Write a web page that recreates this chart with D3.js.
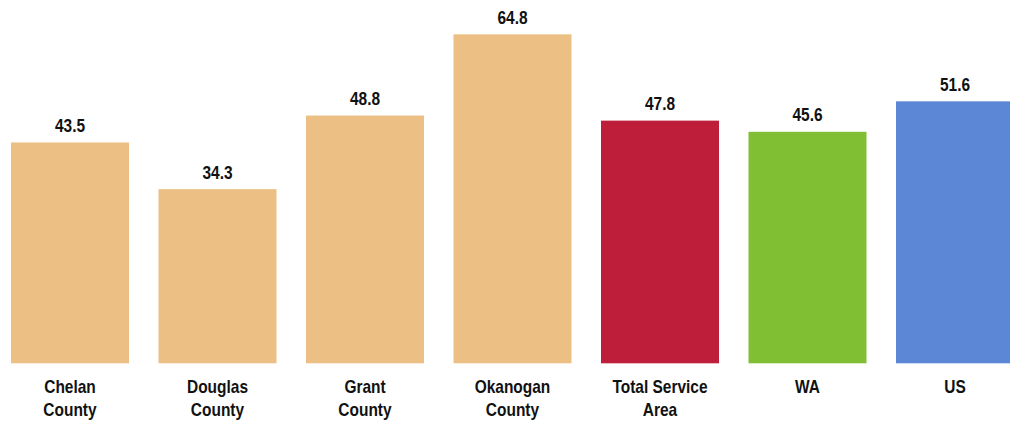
<!DOCTYPE html>
<html>
<head>
<meta charset="utf-8">
<script src="https://cdn.jsdelivr.net/npm/d3@7"></script>
<style>
html,body{margin:0;padding:0;background:#fff;}
svg{display:block;}
</style>
</head>
<body>
<svg id="chart" width="1010" height="422"></svg>
<script>
const categories = [["Chelan","County"],["Douglas","County"],["Grant","County"],["Okanogan","County"],["Total Service","Area"],["WA"],["US"]];
const values = [43.5, 34.3, 48.8, 64.8, 47.8, 45.6, 51.6];
const colors = ["#ECC084","#ECC084","#ECC084","#ECC084","#BE1E3A","#80BE33","#5B87D6"];

const svg = d3.select("#chart");
const keys = categories.map(c => c.join(" "));
const x = d3.scaleBand().domain(keys).range([-3.75, 1028.75]).paddingInner(0.2).paddingOuter(0.1);
const y = d3.scaleLinear().domain([0, 71.56]).range([363.3, 0]);
const font = "'Liberation Sans', Arial, sans-serif";
const sx = 0.86;

svg.selectAll("rect.bar").data(values).join("rect")
  .attr("class","bar")
  .attr("x",(d,i)=>x(keys[i]))
  .attr("width",x.bandwidth())
  .attr("y",d=>y(d))
  .attr("height",d=>y(0)-y(d))
  .attr("fill",(d,i)=>colors[i]);

svg.selectAll("text.val").data(values).join("text")
  .attr("class","val")
  .attr("transform",(d,i)=>`translate(${x(keys[i])+x.bandwidth()/2},${y(d)-10.5}) scale(${sx},1)`)
  .attr("text-anchor","middle")
  .attr("font-family",font).attr("font-weight","bold").attr("font-size","18px")
  .attr("fill","#111")
  .text(d=>d.toFixed(1));

const lab = svg.selectAll("text.cat").data(categories).join("text")
  .attr("class","cat")
  .attr("transform",(c,i)=>`translate(${x(keys[i])+x.bandwidth()/2},393.3) scale(${sx},1)`)
  .attr("text-anchor","middle")
  .attr("font-family",font).attr("font-weight","bold").attr("font-size","18px")
  .attr("fill","#111");
lab.each(function(c){
  const t = d3.select(this);
  c.forEach((line,j)=>{
    t.append("tspan").attr("x",0).attr("y",j*22.7).text(line);
  });
});
</script>
</body>
</html>
